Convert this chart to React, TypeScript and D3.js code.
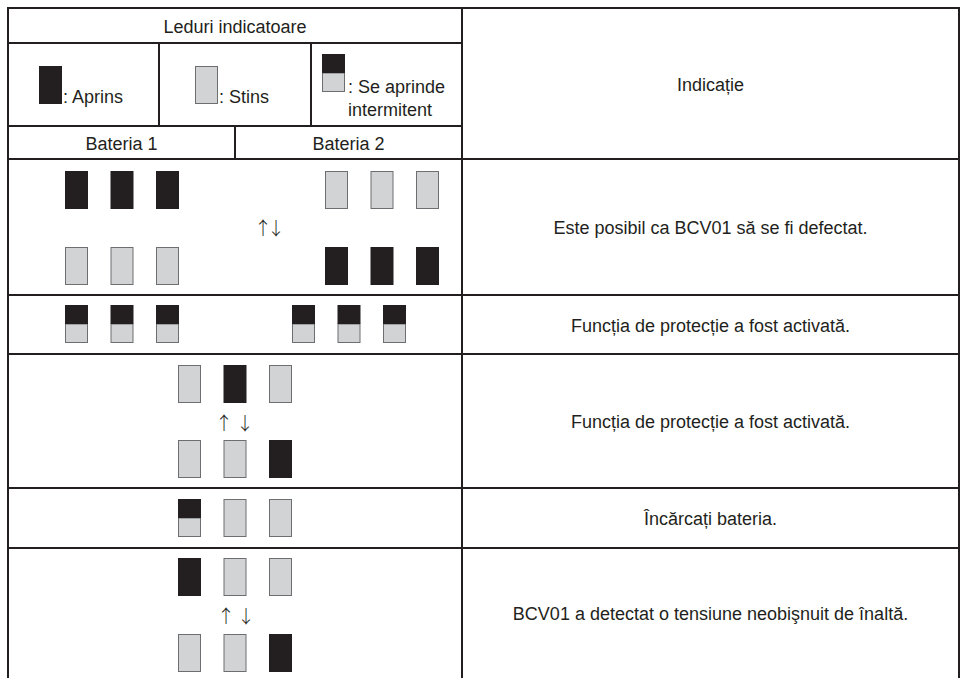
import React from "react";
import * as d3 from "d3";

// ---- data ----
type S = "on" | "off" | "blink";
const headerTitle = "Leduri indicatoare";
const legendLabels = [": Aprins", ": Stins", ": Se aprinde\nintermitent"];
const legendStates: S[] = ["on", "off", "blink"];
const batteryLabels = ["Bateria 1", "Bateria 2"];
const indicationTitle = "Indicație";
const arrowsTight = "↑↓";
const arrows = ["↑", "↓"];

// each row: LED groups; each group has one or two lines of states
const row1Bat1: S[][] = [["on", "on", "on"], ["off", "off", "off"]];
const row1Bat2: S[][] = [["off", "off", "off"], ["on", "on", "on"]];
const row2Bat1: S[][] = [["blink", "blink", "blink"]];
const row2Bat2: S[][] = [["blink", "blink", "blink"]];
const row3: S[][] = [["off", "on", "off"], ["off", "off", "on"]];
const row4: S[][] = [["blink", "off", "off"]];
const row5: S[][] = [["on", "off", "off"], ["off", "off", "on"]];

const indications = [
  "Este posibil ca BCV01 să se fi defectat.",
  "Funcția de protecție a fost activată.",
  "Funcția de protecție a fost activată.",
  "Încărcați bateria.",
  "BCV01 a detectat o tensiune neobişnuit de înaltă.",
];

// ---- layout ----
const W = 980, H = 678;
const X0 = 8, XM = 462, X1 = 959;
const rowLines = [8, 43, 126, 159, 295, 354, 488, 548, 690];
const legendCols = [8, 159, 311, 462];
const batteryMid = 235;
const LED_W = 23, LED_H = 38, LED_GAP = 45.5;
const LINE = "#231f20";
const DARK = "#231f20";
const LIGHT = "#d1d3d4";
const LIGHT_STROKE = "#6d6e71";
const FONT = "'Liberation Sans', Arial, sans-serif";
const ARROW_FONT = "'Noto Sans CJK JP', 'DejaVu Sans', sans-serif";

function Led({ x, y, s }: { x: number; y: number; s: S }) {
  if (s === "on") return <rect x={x} y={y} width={LED_W} height={LED_H} fill={DARK} />;
  if (s === "off")
    return <rect x={x + 0.5} y={y + 0.5} width={LED_W - 1} height={LED_H - 1} fill={LIGHT} stroke={LIGHT_STROKE} strokeWidth={1} />;
  const half = LED_H / 2;
  return (
    <g>
      <rect x={x + 0.5} y={y + half} width={LED_W - 1} height={half - 0.5} fill={LIGHT} stroke={LIGHT_STROKE} strokeWidth={1} />
      <rect x={x} y={y} width={LED_W} height={half} fill={DARK} />
    </g>
  );
}

function LedGroup({ cx, lines, tops }: { cx: number; lines: S[][]; tops: number[] }) {
  const xs = d3.scaleLinear().domain([0, 2]).range([cx - LED_GAP - LED_W / 2, cx + LED_GAP - LED_W / 2]);
  return (
    <g>
      {lines.map((line, li) =>
        line.map((s, i) => <Led key={li + "-" + i} x={xs(i)} y={tops[li]} s={s} />)
      )}
    </g>
  );
}

const arrowProps = { fontFamily: ARROW_FONT, fontSize: 18, fontWeight: 300, fill: LINE } as const;

function Arrows({ xs, cy }: { xs: number[]; cy: number }) {
  return (
    <g>
      {arrows.map((a, i) => (
        <text key={i} x={xs[i]} y={cy} textAnchor="middle" dominantBaseline="central" {...arrowProps}>{a}</text>
      ))}
    </g>
  );
}

export default function App() {
  const rowMid = (i: number) => (rowLines[i] + rowLines[i + 1]) / 2;
  const rightCx = (XM + X1) / 2;
  const textStyle = { fontFamily: FONT, fontSize: 18, fill: LINE } as const;
  const legendLed = [{ x: 39, y: 66 }, { x: 195, y: 66 }, { x: 322, y: 54 }];
  return (
    <svg width={W} height={H} style={{ position: "absolute", left: 0, top: 0 }}>
      <rect width={W} height={H} fill="#fff" />
      {/* text */}
      <text x={(X0 + XM) / 2} y={rowMid(0) + 7} textAnchor="middle" {...textStyle}>{headerTitle}</text>
      {legendStates.map((s, i) => {
        const p = legendLed[i];
        if (i < 2) {
          return (
            <g key={i}>
              <Led x={p.x} y={p.y} s={s} />
              <text x={p.x + LED_W + 1} y={103} {...textStyle}>{legendLabels[i]}</text>
            </g>
          );
        }
        const lines = legendLabels[i].split("\n");
        return (
          <g key={i}>
            <Led x={p.x} y={p.y} s={s} />
            <text x={p.x + LED_W + 3} y={93} {...textStyle}>{lines[0]}</text>
            <text x={390} y={116} textAnchor="middle" {...textStyle}>{lines[1]}</text>
          </g>
        );
      })}
      {batteryLabels.map((b, i) => (
        <text key={b} x={i === 0 ? (X0 + batteryMid) / 2 : (batteryMid + XM) / 2} y={rowMid(2) + 7} textAnchor="middle" {...textStyle}>{b}</text>
      ))}
      <text x={rightCx} y={(rowLines[0] + rowLines[3]) / 2 + 7} textAnchor="middle" {...textStyle}>{indicationTitle}</text>
      {indications.map((t, i) => {
        const top = rowLines[3 + i];
        const bot = i === 4 ? 678 : rowLines[4 + i];
        return (
          <text key={i} x={rightCx} y={(top + bot) / 2 + 7} textAnchor="middle" {...textStyle}>{t}</text>
        );
      })}

      {/* LEDs */}
      <LedGroup cx={122} lines={row1Bat1} tops={[171, 247]} />
      <LedGroup cx={382} lines={row1Bat2} tops={[171, 247]} />
      <text x={267} y={227} textAnchor="middle" dominantBaseline="central" letterSpacing={-5} {...arrowProps}>{arrowsTight}</text>
      <LedGroup cx={122} lines={row2Bat1} tops={[305]} />
      <LedGroup cx={349} lines={row2Bat2} tops={[305]} />
      <LedGroup cx={235} lines={row3} tops={[365, 440]} />
      <Arrows xs={[224, 245]} cy={422} />
      <LedGroup cx={235} lines={row4} tops={[499]} />
      <LedGroup cx={235} lines={row5} tops={[558, 634]} />
      <Arrows xs={[226, 246]} cy={615} />

      {/* grid lines */}
      <g stroke={LINE} strokeWidth={2} fill="none">
        <line x1={X0} x2={X1} y1={rowLines[0]} y2={rowLines[0]} />
        <line x1={X0} x2={XM} y1={rowLines[1]} y2={rowLines[1]} />
        <line x1={X0} x2={XM} y1={rowLines[2]} y2={rowLines[2]} />
        {rowLines.slice(3, 8).map((y) => (
          <line key={y} x1={X0} x2={X1} y1={y} y2={y} />
        ))}
        <line x1={X0} x2={X0} y1={rowLines[0] - 1} y2={H} />
        <line x1={XM} x2={XM} y1={rowLines[0] - 1} y2={H} />
        <line x1={X1} x2={X1} y1={rowLines[0] - 1} y2={H} />
        <line x1={legendCols[1]} x2={legendCols[1]} y1={rowLines[1]} y2={rowLines[2]} />
        <line x1={legendCols[2]} x2={legendCols[2]} y1={rowLines[1]} y2={rowLines[2]} />
        <line x1={batteryMid} x2={batteryMid} y1={rowLines[2]} y2={rowLines[3]} />
      </g>
    </svg>
  );
}
